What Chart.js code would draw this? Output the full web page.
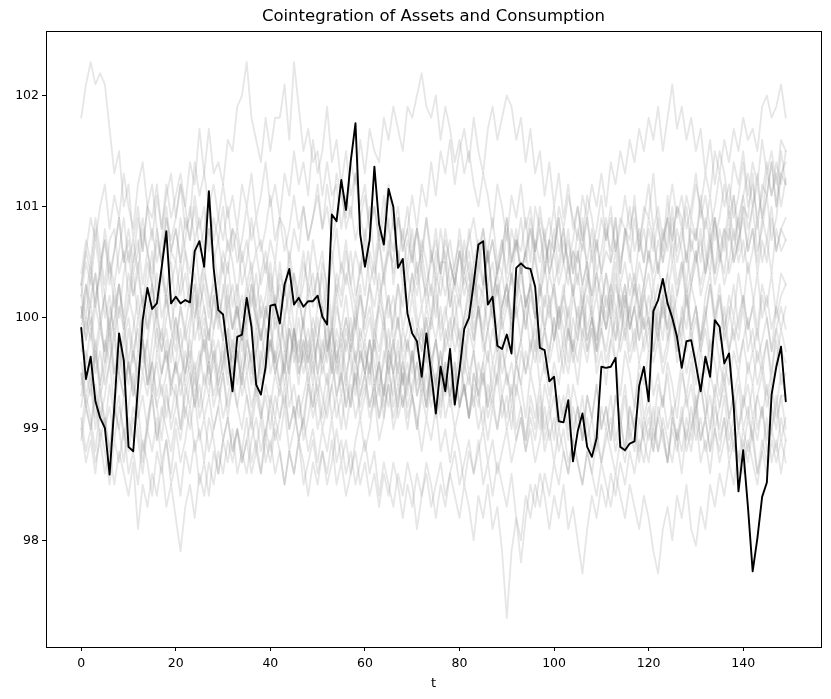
<!DOCTYPE html>
<html lang="en">
<head>
    <meta charset="UTF-8">
    <title>Cointegration of Assets and Consumption</title>
    <script src="https://cdn.jsdelivr.net/npm/chart.js"></script>
    <style>
        body {
            margin: 0;
            background: #ffffff;
        }
        #chart {
            display: block;
        }
    </style>
</head>
<body>
    <canvas id="chart" width="831" height="699"></canvas>

    <script>
        // black path (t = 0..149)
        const consumption = [
            99.91, 99.45, 99.65, 99.25, 99.10, 99.01, 98.59, 99.20, 99.86, 99.62,
            98.84, 98.80, 99.38, 99.98, 100.27, 100.08, 100.13, 100.45, 100.78, 100.13,
            100.19, 100.13, 100.16, 100.14, 100.60, 100.69, 100.46, 101.14, 100.45, 100.07,
            100.03, 99.68, 99.34, 99.83, 99.85, 100.18, 99.92, 99.40, 99.31, 99.56,
            100.11, 100.12, 99.95, 100.30, 100.44, 100.12, 100.18, 100.10, 100.15, 100.15,
            100.20, 100.01, 99.94, 100.93, 100.87, 101.24, 100.97, 101.41, 101.75, 100.75,
            100.46, 100.70, 101.36, 100.84, 100.66, 101.16, 101.00, 100.45, 100.53, 100.04,
            99.86, 99.79, 99.47, 99.86, 99.50, 99.14, 99.56, 99.34, 99.72, 99.22,
            99.53, 99.90, 100.00, 100.31, 100.66, 100.69, 100.12, 100.19, 99.75, 99.72,
            99.85, 99.68, 100.45, 100.49, 100.45, 100.44, 100.28, 99.73, 99.71, 99.43,
            99.47, 99.07, 99.06, 99.26, 98.71, 98.98, 99.14, 98.84, 98.75, 98.92,
            99.56, 99.55, 99.56, 99.64, 98.84, 98.81, 98.87, 98.89, 99.39, 99.56,
            99.25, 100.06, 100.16, 100.35, 100.13, 100.00, 99.83, 99.55, 99.79, 99.80,
            99.58, 99.34, 99.65, 99.47, 99.98, 99.92, 99.59, 99.68, 99.20, 98.44,
            98.81, 98.30, 97.72, 98.02, 98.39, 98.52, 99.31, 99.56, 99.74, 99.25
        ];

        // faint asset paths, estimated from the grey bundle
        const g01 = [101.8,102.1,102.3,102.1,102.2,102.1,101.7,101.3,101.5,101.0,101.2,100.7,101.0,100.6,101.0,101.2,100.8,100.5,100.9,100.7,100.9,101.2,100.8,100.9,101.4,101.1,101.3,101.7,101.3,101.4,101.2,101.6,101.5,101.9,102.0,102.3,101.8,101.6,101.4,101.8,101.5,101.8,101.8,102.1,101.6,102.3,101.9,101.5,101.7,101.4,101.5,101.1,101.4,101.1,101.2,100.8,101.1,100.9,101.3,100.9,100.7,101.0,100.5,100.8,100.6,100.9,100.3,100.6,100.4,100.7,100.5,100.8,100.4,100.2,100.6,100.3,100.5,100.5,100.1,100.4,100.2,100.7,100.4,100.0,100.3,100.2,100.6,100.1,100.5,100.4,100.8,100.3,100.7,100.6,100.9,100.5,101.0,100.8,100.4,100.7,100.6,100.9,100.5,100.3,100.6,100.5,100.9,100.4,100.2,100.7,100.4,100.6,100.5,100.9,100.4,100.8,100.7,101.1,100.6,101.0,100.9,101.3,100.8,100.6,101.1,100.7,101.0,100.9,100.5,100.8,100.7,101.1,100.6,100.4,100.9,100.6,100.8,100.7,101.1,100.6,101.0,100.9,101.3,100.8,101.2,101.1,101.4,101.0,101.5,101.2];
        const g02 = [100.4,100.7,100.5,100.9,100.6,100.3,100.7,100.8,100.4,100.6,100.2,100.5,100.7,100.3,100.6,100.4,100.8,100.5,100.2,100.6,100.5,100.9,100.6,100.4,100.7,100.3,100.5,100.8,100.6,100.3,100.6,100.4,100.8,100.7,100.3,100.5,100.9,100.6,100.7,100.4,100.7,100.5,100.9,100.8,100.5,100.8,100.6,101.0,100.7,100.9,101.1,100.8,101.2,100.9,101.3,101.1,100.9,101.4,101.2,101.6,101.3,101.7,101.5,101.4,101.8,101.6,101.9,101.7,101.5,101.9,101.8,102.0,102.2,101.9,101.8,102.0,101.6,101.9,101.7,101.4,101.6,101.3,101.5,101.2,101.0,101.3,101.1,100.8,101.2,101.0,100.7,101.1,100.9,101.2,100.8,101.0,100.6,100.9,100.7,100.5,100.8,100.4,100.7,100.5,100.2,100.6,100.3,100.5,100.1,100.4,100.2,100.0,100.3,100.1,99.8,100.2,99.9,100.1,100.3,99.9,100.0,99.7,100.1,99.8,100.2,100.0,99.7,100.1,99.9,100.3,100.1,99.8,100.2,100.4,100.0,100.3,99.9,100.2,100.0,100.4,100.1,100.5,100.2,99.9,100.3,100.1,100.4,100.0,100.2,100.3];
        const g03 = [100.3,100.6,100.9,100.7,101.0,101.2,100.8,101.1,100.9,101.3,101.0,100.8,101.2,101.4,101.0,100.9,101.2,100.8,101.1,101.3,100.9,101.2,101.0,100.7,101.1,100.8,101.0,100.6,100.9,100.7,100.4,100.7,100.5,100.2,100.6,100.3,100.5,100.1,100.4,100.6,100.3,100.0,100.4,100.2,100.5,100.1,100.3,100.6,100.2,100.4,100.1,100.5,100.3,100.0,100.4,100.2,100.6,100.3,100.1,100.5,100.2,100.6,100.4,100.7,100.3,100.6,100.5,100.9,100.6,100.8,101.1,100.8,101.2,101.0,101.4,101.1,101.5,101.3,101.6,101.2,101.5,101.7,101.4,101.8,101.5,101.3,101.7,101.9,101.6,101.8,102.0,101.9,101.6,101.8,101.4,101.7,101.3,101.5,101.1,101.4,101.0,101.3,100.9,101.2,100.8,101.0,100.7,101.1,100.9,100.6,100.9,100.7,101.0,100.6,100.9,100.8,100.5,100.9,100.6,100.8,100.5,100.8,100.4,100.7,100.9,100.5,100.8,100.6,100.3,100.7,100.5,100.8,100.4,100.7,100.9,100.6,100.4,100.8,100.5,100.7,100.9,100.6,100.8,100.4,100.7,100.5,100.9,100.6,100.8,100.7];
        const g04 = [100.2,99.9,100.1,99.7,100.0,99.6,99.9,100.2,99.8,99.5,99.9,99.6,100.0,99.8,99.4,99.8,100.1,99.7,99.9,99.6,100.0,99.7,99.5,99.9,100.2,99.8,100.0,99.6,99.9,100.1,99.8,100.2,99.9,100.1,99.7,100.0,100.3,99.9,100.2,100.0,100.4,100.1,100.5,100.2,100.6,100.3,100.1,100.5,100.3,100.7,100.4,100.6,100.2,100.5,100.8,100.4,100.7,100.3,100.6,100.4,100.8,100.5,100.3,100.7,100.4,100.6,100.9,100.5,100.8,100.4,100.6,100.3,100.7,100.5,100.2,100.6,100.4,100.8,100.5,100.3,100.6,100.4,100.8,100.5,100.7,100.3,100.6,100.9,100.5,100.7,100.4,100.8,100.6,100.9,100.5,100.8,100.6,101.0,100.7,100.9,100.6,101.0,100.8,101.1,100.9,100.7,101.1,100.9,101.2,101.0,101.3,101.0,101.4,101.2,101.5,101.3,101.6,101.4,101.7,101.5,101.8,101.6,101.9,101.5,101.8,102.1,101.7,101.9,101.6,101.8,101.5,101.7,101.3,101.6,101.2,101.5,101.3,101.0,101.4,101.2,101.5,101.1,101.4,101.2,101.6,101.3,101.5,101.2,101.6,101.5];
        const g05 = [100.0,100.3,99.9,100.2,100.4,100.0,100.2,99.8,100.1,99.9,100.2,100.0,99.7,100.1,99.9,100.3,100.0,99.8,100.2,99.9,99.7,100.1,99.8,100.0,100.3,99.9,100.1,99.8,100.2,100.0,99.8,100.1,99.9,100.2,99.8,100.0,100.3,100.1,99.8,100.0,100.2,99.9,100.1,99.7,100.0,99.8,100.2,99.9,99.7,100.0,99.8,100.1,99.7,99.9,99.6,99.9,99.7,100.0,99.6,99.8,99.5,99.8,99.6,99.3,99.7,99.5,99.8,99.4,99.6,99.3,99.7,99.4,99.6,99.3,99.5,99.8,99.4,99.6,99.3,99.5,99.2,99.6,99.4,99.7,99.3,99.5,99.2,99.6,99.4,99.7,99.5,99.3,99.6,99.4,99.7,99.5,99.8,99.4,99.6,99.3,99.6,99.4,99.7,99.5,99.8,99.6,99.9,99.7,100.0,99.8,100.1,99.9,100.2,100.0,100.3,100.1,100.4,100.2,100.5,100.3,100.6,100.4,100.7,100.5,100.9,100.7,101.0,100.8,101.1,100.9,101.2,101.0,101.3,101.1,101.5,101.3,101.6,101.4,101.7,101.5,101.8,101.6,101.7,101.5,101.9,102.0,101.8,101.9,102.1,101.8];
        const g06 = [99.5,99.2,99.4,99.0,99.3,99.1,98.8,99.2,99.0,99.3,98.9,99.2,99.0,98.7,99.1,99.3,98.9,99.2,99.0,98.8,99.1,98.9,99.2,99.0,99.3,98.9,99.1,98.8,99.0,99.2,98.9,99.1,98.8,99.0,98.7,98.9,99.1,98.8,98.6,98.9,98.7,99.0,98.8,98.5,98.8,98.6,98.9,98.7,98.4,98.7,98.5,98.8,98.6,98.9,98.5,98.7,98.4,98.6,98.8,98.5,98.7,98.4,98.6,98.3,98.6,98.4,98.7,98.5,98.2,98.5,98.3,98.6,98.4,98.7,98.5,98.2,98.5,98.3,98.6,98.4,98.2,98.5,98.3,98.0,98.4,98.2,98.5,98.1,98.3,97.9,97.3,97.9,98.2,98.0,98.4,98.2,98.5,98.3,98.6,98.4,98.7,98.5,98.8,98.6,98.9,98.7,98.5,98.8,98.6,98.9,98.7,99.0,98.8,98.6,98.9,98.7,99.0,98.8,99.1,98.9,98.7,99.0,98.8,99.1,98.9,98.7,99.0,98.8,99.1,98.9,99.2,98.9,99.1,98.8,99.0,98.7,98.9,99.1,98.8,99.0,98.8,99.1,98.9,98.6,98.9,98.7,99.0,98.8,99.1,98.9];
        const g07 = [99.1,98.8,99.0,98.7,98.9,98.6,98.8,98.5,98.8,98.6,98.4,98.7,98.1,98.5,98.3,98.6,98.4,98.7,98.3,98.5,98.2,97.9,98.3,98.5,98.2,98.6,98.4,98.7,98.5,98.8,98.6,98.9,98.7,99.0,98.8,98.6,98.9,99.1,98.8,99.0,99.2,98.9,99.1,99.3,99.0,99.2,98.9,99.1,99.4,99.1,99.3,99.0,99.2,99.4,99.1,99.3,99.0,99.3,99.5,99.2,99.4,99.1,99.3,99.6,99.2,99.4,99.1,99.3,99.5,99.2,99.4,99.6,99.3,99.5,99.2,99.4,99.7,99.4,99.6,99.3,99.5,99.8,99.5,99.7,99.4,99.6,99.9,99.6,99.8,99.5,99.7,100.0,99.6,99.8,99.5,99.7,100.0,99.7,99.9,99.6,99.8,100.1,99.7,99.9,99.6,99.8,100.1,99.8,100.0,99.7,99.9,99.6,99.8,100.0,99.7,99.9,99.6,99.8,100.1,99.7,99.9,99.6,99.8,99.5,99.7,100.0,99.6,99.8,99.5,99.7,99.4,99.7,99.5,99.8,99.6,99.3,99.6,99.4,99.7,99.5,99.8,99.5,99.7,99.4,99.6,99.3,99.5,99.8,99.4,99.5];
        const g08 = [99.4,99.7,99.5,99.8,99.4,99.6,99.9,99.5,99.7,99.4,99.6,99.3,99.7,99.5,99.8,99.4,99.6,99.3,99.5,99.8,99.5,99.7,99.4,99.6,99.3,99.5,99.8,99.4,99.6,99.3,99.5,99.2,99.4,99.7,99.3,99.5,99.2,99.4,99.1,99.3,99.0,99.3,99.1,99.4,99.0,99.2,98.9,99.1,98.8,99.0,98.7,99.0,98.8,99.1,98.7,98.9,98.6,98.8,98.5,98.7,98.9,98.6,98.8,98.4,98.7,98.5,98.3,98.6,98.4,98.7,98.5,98.1,98.4,98.6,98.3,98.5,98.7,98.4,98.6,98.8,98.5,98.7,98.9,98.6,98.8,99.0,98.7,98.9,98.6,98.8,99.0,98.7,98.9,99.1,98.8,99.0,98.7,98.9,99.2,98.9,99.1,98.8,99.0,98.7,98.9,99.2,98.9,99.1,98.8,99.0,98.7,98.9,99.1,98.8,99.0,99.3,98.9,99.1,98.8,99.0,99.2,98.9,99.1,99.3,99.0,99.2,98.9,99.1,99.3,99.0,99.2,99.4,99.1,99.3,99.0,99.2,99.4,99.1,99.3,99.0,99.2,99.4,99.1,99.3,99.5,99.2,99.4,99.1,99.3,99.3];
        const g09 = [99.2,99.5,99.3,99.7,99.4,99.8,99.6,99.9,99.5,99.8,100.0,99.7,99.9,99.6,99.8,100.1,99.7,99.9,99.6,99.8,100.0,99.7,99.9,100.2,99.8,100.0,99.7,99.9,99.6,99.8,99.5,99.8,99.6,99.9,99.5,99.7,99.4,99.7,99.9,99.6,99.8,99.5,99.7,99.4,99.6,99.9,99.5,99.7,99.4,99.6,99.3,99.6,99.4,99.7,99.3,99.5,99.2,99.5,99.7,99.3,99.5,99.2,99.4,99.1,99.4,99.2,99.5,99.1,99.3,99.0,99.3,99.1,98.8,99.1,98.9,99.2,98.8,99.0,98.7,99.0,98.8,98.5,98.8,98.6,98.9,98.5,98.7,98.4,98.7,98.5,98.3,98.6,98.2,97.8,98.2,98.5,98.3,98.6,98.4,98.1,98.4,98.2,98.5,98.1,98.3,98.0,97.7,98.1,98.4,98.2,98.5,98.3,98.6,98.4,98.7,98.5,98.8,98.6,98.9,98.7,99.0,98.8,99.1,98.9,98.7,99.0,98.8,99.1,98.9,99.2,98.9,99.1,98.8,99.0,99.3,98.9,99.1,98.8,99.0,98.7,99.0,98.8,99.1,98.9,99.2,98.8,99.0,99.3,98.9,99.1];
        const g10 = [99.0,99.3,99.1,98.8,99.2,99.0,99.4,99.1,99.3,98.9,99.2,99.5,99.1,99.3,99.0,99.4,99.2,98.9,99.3,99.1,99.4,99.0,99.3,99.5,99.2,99.4,99.1,99.3,99.0,99.2,99.5,99.1,99.4,99.2,99.5,99.3,99.0,99.3,99.1,99.4,99.2,99.5,99.3,99.6,99.2,99.4,99.1,99.3,99.5,99.2,99.4,99.1,99.3,99.6,99.3,99.5,99.2,99.4,99.1,99.3,99.5,99.2,99.4,99.1,99.3,99.6,99.2,99.4,99.2,99.5,99.3,99.0,99.3,99.1,99.4,99.2,99.5,99.1,99.3,99.0,99.2,99.4,99.1,99.3,99.0,99.2,98.9,99.2,99.0,99.3,99.0,99.2,98.9,99.1,98.8,99.1,98.9,99.2,98.8,99.0,98.7,99.0,98.8,98.6,98.9,98.7,98.5,98.8,98.6,98.4,98.7,98.5,98.3,98.6,98.4,98.2,98.5,98.3,98.1,98.4,98.2,97.9,97.7,98.1,98.3,98.0,98.4,98.2,98.5,98.1,97.95,98.3,98.1,98.5,98.3,98.6,98.4,98.7,98.5,98.8,98.6,98.9,98.7,98.5,98.8,98.6,98.9,98.7,98.9,98.7];
        const g11 = [98.9,99.2,99.0,99.4,99.1,99.3,99.6,99.2,99.5,99.3,99.6,99.3,99.5,99.8,99.4,99.6,99.3,99.5,99.7,99.4,99.6,99.3,99.5,99.8,99.5,99.7,99.4,99.6,99.3,99.5,99.8,99.5,99.7,99.4,99.6,99.9,99.5,99.7,99.4,99.6,99.8,99.5,99.7,100.0,99.6,99.8,99.5,99.7,99.9,99.6,99.8,100.1,99.7,99.9,100.2,99.8,100.0,99.7,99.9,100.2,99.8,100.0,99.7,100.1,99.9,100.2,99.8,100.0,99.7,99.9,100.2,99.9,100.1,99.8,100.0,100.3,99.9,100.1,99.8,100.0,100.2,99.9,100.1,100.4,100.0,100.2,99.9,100.1,100.3,100.0,100.2,99.9,100.1,100.4,100.1,100.3,100.0,100.2,100.5,100.1,100.3,100.0,100.2,100.5,100.2,100.4,100.1,100.3,100.6,100.2,100.4,100.1,100.3,100.6,100.3,100.5,100.2,100.4,100.1,100.3,100.6,100.3,100.5,100.2,100.4,100.7,100.3,100.5,100.2,100.4,100.6,100.3,100.5,100.8,100.4,100.6,100.3,100.5,100.8,100.5,100.7,100.4,100.6,100.9,100.5,100.7,101.0,100.6,100.8,100.9];
        const g12 = [100.3,100.6,100.4,100.8,100.5,100.7,100.4,100.6,100.9,100.5,100.7,100.4,100.6,100.9,100.6,100.8,100.5,100.7,101.0,100.6,100.8,100.5,100.7,101.0,100.7,100.9,100.6,100.8,100.5,100.7,101.0,100.6,100.8,100.5,100.7,101.0,100.7,100.9,100.6,100.8,101.1,100.7,100.9,100.6,100.8,101.1,100.8,101.0,100.7,100.9,101.2,100.8,101.0,100.7,100.9,101.2,100.8,101.0,100.7,100.9,101.1,100.8,101.0,100.7,100.9,101.2,100.8,101.0,100.6,100.8,100.5,100.8,100.6,100.9,100.5,100.7,100.4,100.7,100.5,100.3,100.6,100.3,100.5,100.2,100.4,100.7,100.3,100.5,100.2,100.4,100.1,100.4,100.2,100.5,100.1,100.3,100.0,100.3,100.1,100.4,100.2,99.9,100.2,100.0,100.3,99.9,100.1,100.4,100.0,100.2,99.9,100.2,100.0,100.3,100.1,99.8,100.1,100.3,100.0,100.2,100.4,100.1,100.3,100.0,100.2,100.5,100.2,100.4,100.6,100.3,100.5,100.7,100.4,100.6,100.9,100.5,100.7,101.0,100.7,100.9,101.1,100.8,101.0,101.3,100.9,101.1,101.4,101.0,101.3,101.4];
        const g13 = [99.7,100.0,99.8,100.1,99.9,100.2,99.8,100.0,100.3,99.9,100.1,100.4,100.0,100.2,99.9,100.1,100.4,100.0,100.2,99.9,100.2,100.5,100.1,100.3,100.0,100.2,100.5,100.1,100.3,100.0,100.2,100.5,100.1,100.3,100.0,100.3,100.1,100.4,100.0,100.2,100.5,100.1,100.3,100.0,100.2,100.4,100.1,100.3,100.6,100.2,100.4,100.1,100.3,100.6,100.2,100.5,100.3,100.6,100.2,100.4,100.7,100.3,100.5,100.2,100.4,100.7,100.4,100.6,100.3,100.5,100.8,100.4,100.6,100.3,100.5,100.8,100.4,100.6,100.3,100.5,100.7,100.4,100.6,100.3,100.5,100.8,100.5,100.7,100.4,100.6,100.9,100.5,100.7,100.4,100.6,100.9,100.6,100.8,100.5,100.7,101.0,100.6,100.8,100.5,100.7,101.0,100.7,100.9,100.6,100.8,101.1,100.7,100.9,100.6,100.8,101.1,100.8,101.0,100.7,100.9,101.2,100.8,101.0,100.7,100.9,101.2,100.9,101.1,100.8,101.0,101.3,100.9,101.1,100.8,101.0,101.3,101.0,101.2,100.9,101.1,101.4,101.0,101.2,100.9,101.1,101.4,101.1,101.3,101.0,101.25];
        const g14 = [100.1,99.8,100.2,100.4,100.0,99.7,100.1,99.9,100.3,100.0,99.6,99.9,100.2,99.8,100.1,100.3,99.9,99.7,100.0,100.2,99.8,100.1,99.9,99.6,100.0,100.3,100.1,99.8,100.2,99.9,100.3,100.0,99.7,100.1,99.8,100.2,100.4,100.0,99.8,100.1,99.9,100.2,99.8,100.0,100.3,99.9,99.6,100.0,100.2,99.8,100.1,100.4,100.0,99.7,100.1,99.9,100.2,99.8,100.0,100.3,99.9,100.1,99.8,100.2,100.0,99.7,100.0,100.3,99.9,100.1,100.4,100.0,99.8,100.1,99.9,100.2,99.8,100.0,100.3,99.9,99.7,100.0,100.2,99.8,100.1,99.9,100.3,100.0,99.7,100.1,100.3,99.9,100.1,99.8,100.2,100.0,99.7,100.1,99.9,100.2,99.8,100.0,100.3,99.9,99.7,100.1,99.8,100.2,100.0,99.7,100.1,100.4,100.0,99.8,100.2,99.9,100.1,99.7,100.0,100.3,99.9,100.1,99.8,100.2,99.9,100.3,100.0,99.8,100.2,99.9,100.1,99.7,100.0,100.3,99.9,100.2,99.8,100.0,100.3,99.9,100.2,99.9,100.1,99.8,100.2,100.0,99.7,100.1,99.9,100.1];
        const g15 = [99.8,99.6,99.9,99.5,99.7,99.4,99.6,99.8,99.5,99.3,99.6,99.4,99.2,99.5,99.3,99.6,99.2,99.4,99.1,99.4,99.3,99.0,99.4,99.2,99.5,99.1,99.3,99.6,99.2,99.4,99.1,99.3,99.5,99.2,99.0,99.3,99.1,99.4,99.2,98.9,99.3,99.1,99.4,99.2,99.5,99.1,99.3,99.0,99.4,99.2,99.5,99.3,99.1,99.4,99.6,99.3,99.5,99.2,99.6,99.4,99.7,99.5,99.8,99.4,99.6,99.9,99.5,99.7,99.4,99.8,99.6,99.9,99.7,100.0,99.6,99.8,99.5,99.9,99.7,100.0,99.8,99.5,99.9,99.7,100.1,99.8,99.6,99.9,99.7,100.0,99.7,99.9,99.6,99.8,100.1,99.7,99.9,99.6,99.9,99.7,100.0,99.8,99.5,99.9,99.7,99.4,99.8,99.6,99.9,99.5,99.7,99.4,99.8,99.6,99.3,99.7,99.5,99.2,99.6,99.4,99.7,99.3,99.5,99.2,99.6,99.4,99.1,99.5,99.3,99.6,99.2,99.4,99.1,99.5,99.3,99.6,99.4,99.7,99.3,99.5,99.2,99.6,99.4,99.7,99.5,99.8,99.4,99.6,99.9,99.7];
        const g16 = [100.2,100.5,100.3,100.7,100.4,100.8,100.5,100.3,100.6,100.9,100.5,100.7,100.4,100.8,100.6,100.3,100.7,100.5,100.9,100.6,100.8,100.5,100.9,100.7,101.0,100.6,100.8,101.1,100.7,100.9,101.2,100.9,101.1,100.8,101.2,101.0,101.3,100.9,101.1,101.4,101.0,101.2,100.9,101.3,101.1,101.5,101.2,101.4,101.1,101.6,101.3,101.5,101.9,101.4,101.6,101.2,101.5,101.1,101.3,101.0,101.2,100.8,101.0,100.7,101.1,100.8,100.6,100.9,100.7,101.0,100.6,100.8,100.5,100.9,100.6,100.4,100.8,100.5,100.7,100.4,100.8,100.5,100.7,100.9,100.6,100.8,100.5,100.7,100.4,100.6,100.9,100.5,100.7,100.4,100.6,100.8,100.5,100.3,100.7,100.4,100.6,100.3,100.5,100.8,100.4,100.6,100.3,100.5,100.2,100.4,100.1,100.4,100.2,100.5,100.1,100.3,100.0,100.3,100.1,99.9,100.2,100.0,99.8,100.1,99.9,100.2,99.8,100.0,100.3,99.9,100.1,99.8,100.0,100.3,100.0,100.2,99.9,100.1,99.8,100.0,100.2,99.9,100.1,100.4,100.0,100.2,99.9,100.1,100.4,100.3];
        const g17 = [99.6,99.3,99.5,99.1,99.4,99.0,99.2,98.9,99.2,99.0,98.8,99.1,98.9,98.6,99.0,98.8,99.1,98.7,98.9,98.6,99.0,98.7,98.9,99.2,98.8,99.0,98.7,99.1,98.9,98.6,98.9,99.1,98.8,99.0,98.7,98.9,98.6,98.8,99.1,98.7,98.9,98.6,98.8,98.5,98.8,98.6,98.9,98.5,98.7,98.9,98.6,98.8,98.5,98.7,99.0,98.7,98.9,98.6,98.9,99.1,98.8,99.0,99.3,98.9,99.1,99.4,99.0,99.2,99.5,99.1,99.3,99.0,99.4,99.2,99.5,99.1,99.3,99.6,99.2,99.4,99.7,99.3,99.5,99.2,99.6,99.4,99.7,99.3,99.5,99.8,99.4,99.6,99.3,99.7,99.5,99.8,99.6,99.9,99.5,99.7,100.0,99.6,99.8,100.1,99.7,99.9,100.2,99.8,100.0,99.7,100.1,99.9,100.2,99.8,100.0,100.3,99.9,100.1,99.8,100.2,100.0,100.3,99.9,100.1,100.4,100.0,100.2,100.5,100.1,100.3,100.6,100.2,100.4,100.7,100.3,100.5,100.8,100.4,100.6,100.9,100.5,100.7,101.0,100.6,100.8,101.1,100.7,100.9,101.3,101.2];
        const g18 = [100.1,99.8,100.0,99.6,99.9,99.7,100.0,99.5,99.8,99.6,99.4,99.7,99.5,99.8,99.4,99.6,99.9,99.5,99.7,99.3,99.6,99.4,99.7,99.5,99.2,99.6,99.8,99.5,99.7,99.4,99.6,99.9,99.5,99.7,99.4,99.8,99.6,99.3,99.7,99.5,99.8,99.6,99.4,99.7,99.5,99.9,99.6,99.8,99.5,99.7,100.0,99.6,99.8,99.5,99.9,99.7,100.0,99.8,100.1,99.8,100.0,100.3,99.9,100.1,100.4,100.0,100.2,99.9,100.3,100.1,100.4,100.2,100.5,100.1,100.3,100.0,100.4,100.2,100.5,100.3,100.1,100.4,100.2,100.5,100.1,100.3,100.6,100.2,100.4,100.1,100.3,100.0,100.4,100.2,99.9,100.2,100.0,100.3,99.9,100.1,99.8,100.1,99.9,99.6,100.0,99.8,100.1,99.7,99.9,99.6,99.9,99.7,100.0,99.6,99.8,100.1,99.7,99.9,99.6,99.8,100.0,99.7,99.9,99.6,99.8,100.1,99.8,100.0,99.7,99.9,99.6,99.8,100.1,99.7,99.9,99.6,99.9,99.7,100.0,99.8,100.1,99.7,99.9,99.6,99.8,100.0,99.7,99.9,100.1,99.9];
        const g19 = [99.3,99.6,99.4,99.7,99.3,99.5,99.8,99.4,99.6,99.9,99.5,99.7,99.4,99.8,99.6,99.3,99.7,99.5,99.8,99.4,99.6,99.9,99.5,99.7,99.4,99.6,99.9,99.6,99.8,99.5,99.7,99.4,99.8,99.6,99.9,99.5,99.7,99.4,99.6,99.9,99.5,99.7,99.4,99.6,99.9,99.6,99.8,99.5,99.7,99.4,99.8,99.5,99.7,100.0,99.6,99.8,99.5,99.7,99.4,99.7,99.5,99.8,99.4,99.6,99.3,99.7,99.5,99.8,99.4,99.6,99.3,99.6,99.4,99.7,99.3,99.5,99.2,99.5,99.3,99.6,99.2,99.4,99.1,99.4,99.2,99.5,99.1,99.3,99.0,99.3,99.1,99.4,99.0,99.2,98.9,99.2,99.0,99.3,98.9,99.1,99.3,99.0,99.2,98.9,99.2,99.0,99.3,98.9,99.1,99.4,99.0,99.2,98.9,99.3,99.1,99.4,99.0,99.2,99.5,99.1,99.3,99.0,99.4,99.2,99.5,99.1,99.3,99.6,99.2,99.4,99.1,99.5,99.3,99.0,99.4,99.2,99.5,99.1,99.3,99.0,99.3,99.1,99.4,99.0,99.2,98.9,99.2,99.0,99.3,99.0];
        const g20 = [100.3,100.0,100.4,100.1,100.5,100.2,99.9,100.3,100.0,100.4,100.6,100.2,100.4,100.1,100.5,100.3,100.0,100.4,100.2,100.5,100.1,100.3,100.6,100.2,100.4,100.1,100.3,100.0,100.4,100.2,100.5,100.1,100.3,100.0,100.2,99.9,100.2,100.0,99.8,100.1,99.9,99.6,100.0,99.8,99.5,99.9,99.7,100.0,99.6,99.8,99.5,99.8,99.6,99.9,99.5,99.7,99.4,99.8,99.6,99.9,99.7,99.4,99.8,99.6,99.9,99.5,99.7,100.0,99.6,99.8,99.5,99.9,99.7,100.0,99.6,99.8,99.5,99.8,100.0,99.7,99.9,99.6,100.0,99.8,100.1,99.7,99.9,100.2,99.9,100.1,100.3,100.0,100.2,100.5,100.1,100.3,100.6,100.2,100.4,100.7,100.3,100.5,100.8,100.4,100.6,100.3,100.7,100.5,100.8,100.4,100.6,100.9,100.5,100.7,100.4,100.8,100.6,100.3,100.7,100.5,100.8,100.6,100.9,100.5,100.7,101.0,100.6,100.8,100.5,100.9,100.7,101.0,100.8,101.1,100.7,100.9,101.2,100.9,101.1,100.8,101.1,101.3,101.0,101.2,100.9,101.3,101.1,101.4,101.2,101.5];
        const g21 = [99.9,100.2,100.5,100.1,100.4,100.7,100.3,100.6,100.9,100.5,100.8,100.5,100.9,100.6,101.0,100.7,101.1,100.8,101.2,100.9,101.1,101.3,101.0,101.4,101.2,101.7,101.3,101.0,101.2,100.9,100.7,101.0,100.6,100.8,100.5,100.7,100.4,100.6,100.3,100.5,100.2,100.5,100.1,100.3,100.0,100.4,100.2,99.9,100.3,100.1,100.4,100.0,100.2,99.9,100.3,100.1,100.4,100.2,99.9,100.2,100.0,100.3,100.1,100.4,100.0,100.2,99.9,100.3,100.1,100.4,100.2,100.5,100.1,100.3,100.0,100.4,100.2,100.5,100.1,100.3,100.6,100.2,100.4,100.1,100.5,100.3,100.6,100.2,100.4,100.7,100.3,100.5,100.8,100.4,100.6,100.3,100.7,100.5,100.8,100.4,100.6,100.9,100.5,100.7,100.4,100.8,100.6,100.9,100.5,100.7,100.4,100.8,100.6,100.9,100.5,100.7,101.0,100.6,100.8,100.5,100.9,100.7,100.4,100.8,100.6,100.9,100.5,100.7,101.0,100.6,100.8,100.5,100.9,100.7,100.4,100.8,100.6,100.9,100.5,100.7,101.0,100.6,100.8,100.5,100.9,100.7,100.4,100.8,100.6,100.7];
        const g22 = [99.5,99.2,99.0,99.3,98.9,99.1,98.8,99.2,99.0,98.7,99.1,98.9,99.2,98.8,99.0,99.3,98.9,99.1,99.4,99.0,99.2,99.5,99.1,99.4,99.6,99.2,99.5,99.3,99.7,99.4,99.6,99.9,99.5,99.7,99.4,99.8,99.6,99.9,99.5,99.7,100.0,99.6,99.8,99.5,99.9,99.7,99.4,99.8,99.6,99.9,99.5,99.7,100.0,99.6,99.8,99.5,99.9,99.7,100.0,99.6,99.8,99.5,99.9,99.7,100.0,99.6,99.8,99.5,99.9,99.7,100.0,99.7,99.9,99.6,100.0,99.8,100.1,99.7,99.9,100.2,99.8,100.0,100.3,99.9,100.1,99.8,100.2,100.0,100.3,99.9,100.1,100.4,100.0,100.2,99.9,100.3,100.1,99.8,100.2,100.0,100.3,99.9,100.1,99.8,100.2,100.0,100.3,99.9,100.1,99.8,100.2,99.9,100.1,100.4,100.0,100.2,99.9,100.1,99.8,100.0,99.7,100.1,99.9,100.2,99.8,100.0,99.7,99.9,100.2,99.8,100.0,99.7,99.9,99.6,100.0,99.8,100.1,99.7,99.9,99.6,99.8,100.0,99.7,99.9,99.6,99.8,99.5,99.9,99.7,99.6];
        const g23 = [100.0,100.3,100.1,100.4,100.0,100.2,100.5,100.1,100.3,100.0,100.4,100.2,100.5,100.1,100.3,100.6,100.2,100.4,100.1,100.3,100.5,100.2,100.4,100.1,100.3,100.0,100.4,100.2,99.9,100.2,100.0,100.3,99.9,100.1,99.8,100.2,100.0,99.7,100.1,99.9,99.7,100.0,99.8,99.5,99.9,99.7,100.0,99.6,99.8,99.5,99.8,99.6,99.9,99.5,99.7,99.4,99.8,99.6,99.3,99.7,99.5,99.8,99.4,99.6,99.3,99.7,99.5,99.2,99.6,99.4,99.7,99.3,99.5,99.2,99.6,99.4,99.1,99.5,99.3,99.6,99.2,99.4,99.1,99.5,99.3,99.0,99.4,99.2,99.5,99.1,99.3,99.0,99.4,99.2,98.9,99.3,99.1,99.4,99.0,99.2,98.9,99.3,99.1,99.4,99.0,99.2,98.9,99.3,99.1,98.8,99.2,99.0,99.3,98.9,99.1,98.8,99.2,99.0,98.7,99.1,98.9,99.2,98.8,99.0,98.7,99.1,98.9,98.6,99.0,98.8,99.1,98.7,98.9,98.6,99.0,98.8,99.1,98.7,98.9,98.6,98.9,98.7,99.0,98.6,98.8,99.1,98.7,98.9,98.6,98.9];
        const g24 = [99.0,98.7,98.9,98.6,99.0,98.8,98.5,98.9,98.7,99.0,98.6,98.8,98.5,98.9,98.7,98.4,98.8,98.6,98.9,98.5,98.7,98.4,98.8,98.6,98.9,98.5,98.7,98.4,98.8,98.6,98.9,98.7,99.0,98.6,98.8,99.1,98.7,98.9,98.6,99.0,98.8,99.1,98.9,99.2,98.8,99.0,99.3,98.9,99.1,99.4,99.0,99.2,99.5,99.1,99.3,99.0,99.4,99.2,99.5,99.1,99.3,99.6,99.2,99.4,99.1,99.5,99.3,99.6,99.2,99.4,99.7,99.3,99.5,99.2,99.6,99.4,99.7,99.3,99.5,99.2,99.6,99.4,99.1,99.5,99.3,99.6,99.2,99.4,99.7,99.3,99.5,99.2,99.6,99.4,99.1,99.5,99.3,99.0,99.4,99.2,99.5,99.1,99.3,99.0,99.4,99.2,98.9,99.3,99.1,99.4,99.0,99.2,98.9,99.3,99.1,98.8,99.2,99.0,99.3,98.9,99.1,98.8,99.2,99.0,98.7,99.1,98.9,99.2,98.8,99.0,99.3,98.9,99.1,98.8,99.2,99.0,99.3,98.9,99.1,99.4,99.0,99.2,98.9,99.3,99.1,99.4,99.0,99.2,99.5,99.3];

        const assetPaths = [g01, g02, g03, g04, g05, g06, g07, g08, g09, g10, g11, g12,
                            g13, g14, g15, g16, g17, g18, g19, g20, g21, g22, g23, g24];

        const xTicks = [0, 20, 40, 60, 80, 100, 120, 140];
        const yTicks = [98, 99, 100, 101, 102];

        // turn a list of values into {x: t, y: value} points
        function toPoints(values) {
            return values.map((v, i) => ({ x: i, y: v }));
        }

        let datasets = [{
            data: toPoints(consumption),
            borderColor: '#000000',
            borderWidth: 1.9,
            order: 0
        }];
        assetPaths.forEach(p => {
            datasets.push({
                data: toPoints(p),
                borderColor: 'rgba(128, 128, 128, 0.2)',
                borderWidth: 1.8,
                order: 1
            });
        });

        // matplotlib style box round the plot area
        const frame = {
            id: 'frame',
            afterDraw(chart) {
                const a = chart.chartArea;
                const ctx = chart.ctx;
                ctx.save();
                ctx.strokeStyle = '#000000';
                ctx.lineWidth = 1;
                ctx.strokeRect(Math.round(a.left) + 0.5, Math.round(a.top) + 0.5,
                               Math.round(a.right - a.left), Math.round(a.bottom - a.top));
                ctx.restore();
            }
        };

        const tickFont = { family: "'DejaVu Sans', sans-serif", size: 12.5 };

        new Chart(document.getElementById('chart'), {
            type: 'line',
            data: { datasets: datasets },
            plugins: [frame],
            options: {
                responsive: false,
                animation: false,
                layout: { padding: { left: 0, right: 10, top: 0, bottom: 8 } },
                elements: {
                    point: { radius: 0 },
                    line: { tension: 0, borderJoinStyle: 'round', borderCapStyle: 'round' }
                },
                plugins: {
                    legend: { display: false },
                    tooltip: { enabled: false },
                    title: {
                        display: true,
                        fullSize: false,
                        text: 'Cointegration of Assets and Consumption',
                        color: '#000000',
                        font: { family: "'DejaVu Sans', sans-serif", size: 16.5, weight: 'normal' },
                        padding: { top: 7, bottom: 4.2 }
                    }
                },
                scales: {
                    x: {
                        type: 'linear',
                        min: -7.45,
                        max: 156.45,
                        afterFit: s => { s.height = 44; },
                        afterBuildTicks: s => { s.ticks = xTicks.map(v => ({ value: v })); },
                        ticks: { color: '#000000', font: tickFont, padding: 5, maxRotation: 0, includeBounds: false },
                        grid: { display: true, drawOnChartArea: false, drawTicks: true, tickLength: 4, color: '#000000' },
                        border: { display: false },
                        title: {
                            display: true,
                            text: 't',
                            color: '#000000',
                            font: { family: "'DejaVu Sans', sans-serif", size: 13 },
                            padding: 0
                        }
                    },
                    y: {
                        type: 'linear',
                        min: 97.04,
                        max: 102.58,
                        afterFit: s => { s.width = 46; },
                        afterBuildTicks: s => { s.ticks = yTicks.map(v => ({ value: v })); },
                        ticks: { color: '#000000', font: tickFont, padding: 3, includeBounds: false },
                        grid: { display: true, drawOnChartArea: false, drawTicks: true, tickLength: 4, color: '#000000' },
                        border: { display: false }
                    }
                }
            }
        });
    </script>
</body>
</html>
